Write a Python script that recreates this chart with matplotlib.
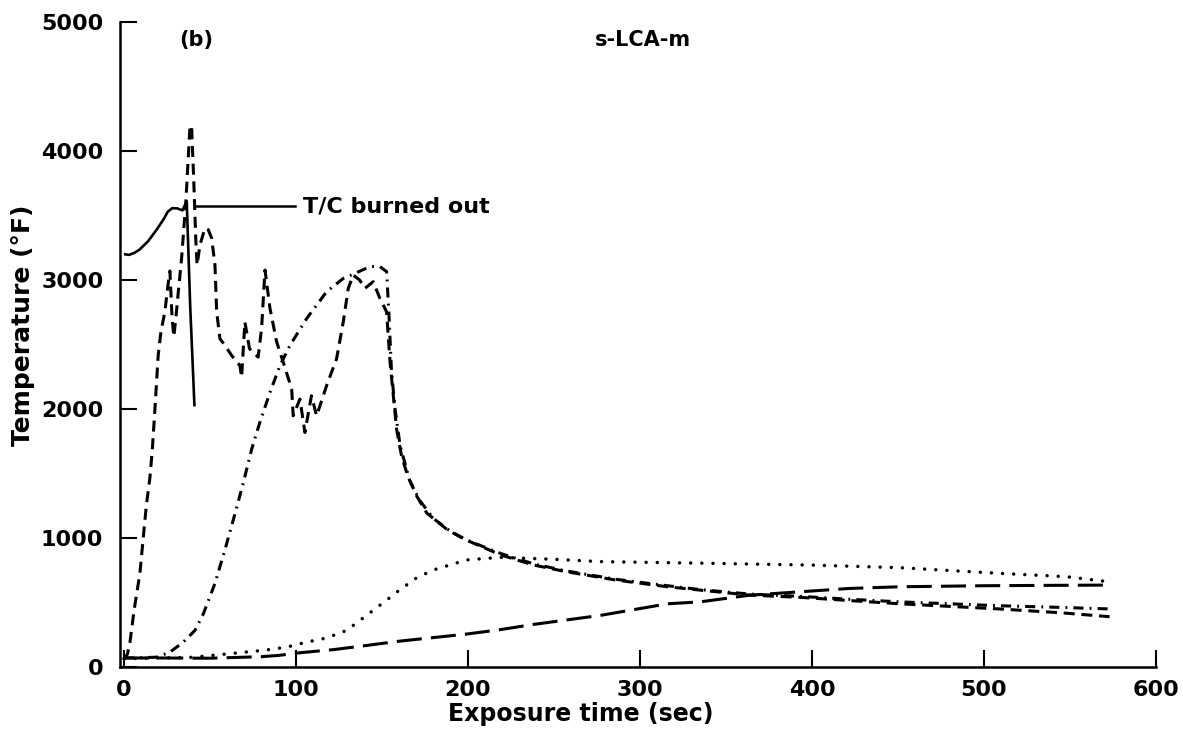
import matplotlib
matplotlib.use("Agg")
import matplotlib.pyplot as plt

# ---- data ----
tc_t = [0, 3, 6, 9, 14, 19, 23, 25.5, 27, 28, 31, 34, 36.5, 38.5, 41]
tc_T = [3200, 3195, 3210, 3235, 3300, 3390, 3470, 3530, 3545, 3557, 3555, 3540, 3610, 2800, 2020]

sd_t = [0, 2, 3.5, 6, 9.3, 11.2, 13, 15.1, 16.5, 18, 19.9, 21.5, 23.8, 25.5, 26.7, 28, 29,
        30.5, 31.6, 33.5, 36, 38.4, 39.3, 40.5, 41.8, 42.5, 44.2, 47.1, 49, 51, 52.9, 53.9,
        55.8, 58.7, 62.6, 67.4, 68.4, 70.3, 73, 78, 80, 82, 84.9, 88.8, 92.6, 97.5, 98.4,
        102.3, 105.2, 109, 112, 117.8, 123.6, 127.5, 130.4, 133.3, 137, 140.1, 144.9, 148.8,
        152.7, 154.7, 156.6, 158.5, 161.4, 165, 170, 176, 188, 198, 219, 238, 257, 286, 316,
        335, 364, 393, 422, 451, 509, 545, 573]
sd_T = [60, 100, 193, 450, 729, 1000, 1250, 1469, 1687, 2000, 2415, 2600, 2755, 2950, 3070,
        2700, 2560, 2750, 2909, 3168, 3613, 4195, 4195, 3800, 3300, 3116, 3272, 3402, 3390,
        3324, 3116, 2755, 2545, 2493, 2415, 2337, 2246, 2675, 2467, 2402, 2623, 3077, 2779,
        2519, 2363, 2155, 1947, 2077, 1818, 2103, 1947, 2181, 2389, 2675, 2935, 3038, 3000,
        2935, 2987, 2857, 2753, 2363, 2103, 1843, 1635, 1480, 1330, 1194, 1064, 990, 869,
        791, 739, 674, 622, 596, 557, 540, 515, 490, 450, 420, 390]

dd_t = [0, 10, 19, 26.7, 34.5, 38.4, 41.3, 46.1, 52.9, 58.7, 63.6, 69.4, 74.2, 79, 84.9,
        90.7, 96.5, 106.2, 117.8, 127.5, 134.3, 143, 148.8, 152.7, 154, 155.5, 157.6, 160.5,
        166, 172, 180, 190, 200, 219, 238, 257, 286, 316, 335, 364, 393, 422, 451, 509, 545, 573]
dd_T = [70, 72, 76, 115, 193, 245, 284, 410, 648, 908, 1142, 1428, 1687, 1896, 2129, 2337,
        2493, 2701, 2909, 3012, 3051, 3104, 3104, 3065, 2750, 2300, 2000, 1720, 1450, 1290,
        1150, 1050, 980, 880, 800, 745, 680, 630, 600, 565, 548, 525, 505, 475, 462, 450]

dt_t = [0, 40, 81, 94.6, 106.2, 117.8, 129.5, 141, 152.7, 160.5, 170, 179.8, 199.2, 218.6,
        250, 276.7, 335, 400, 451, 509, 548, 573]
dt_T = [65, 75, 129, 154, 193, 225, 284, 400, 518, 600, 690, 752, 830, 850, 835, 817, 805,
        790, 770, 726, 700, 660]

ld_t = [0, 20, 50, 80, 90, 102, 117, 122, 137, 160, 199, 219, 238, 277, 316, 335, 364, 393,
        422, 451, 500, 540, 573]
ld_T = [70, 70, 68, 80, 90, 110, 129, 135, 160, 200, 255, 290, 330, 400, 490, 505, 557, 583,
        609, 622, 630, 633, 635]

x_ticks = [0, 100, 200, 300, 400, 500, 600]
y_ticks = [0, 1000, 2000, 3000, 4000, 5000]

# ---- figure ----
plt.rcParams['font.family'] = ['DejaVu Sans']
plt.rcParams['font.weight'] = 'bold'

fig = plt.figure(figsize=(11.83, 7.35), dpi=100)
ax = fig.add_axes([120 / 1183, 68 / 735, 1036 / 1183, 645 / 735])

lw = 2.2
ax.plot(tc_t, tc_T, color='black', lw=1.9, solid_capstyle='butt')
ax.plot(sd_t, sd_T, color='black', lw=lw, linestyle=(0, (3.6, 2.2)))
ax.plot(dd_t, dd_T, color='black', lw=lw, linestyle=(0, (3.3, 2.0, 0.6, 2.0)))
ax.plot(dt_t, dt_T, color='black', lw=2.5, linestyle=(0, (0.01, 3.2)), dash_capstyle='round')
ax.plot(ld_t, ld_T, color='black', lw=lw, linestyle=(0, (8.2, 3.0)))

# annotation for the burned-out thermocouple
ax.plot([41.5, 99.5], [3573, 3573], color='black', lw=1.8)
ax.text(104, 3573, 'T/C burned out', fontsize=16, fontweight='bold', va='center', ha='left')

ax.text(42, 4860, '(b)', fontsize=15, fontweight='bold', ha='center', va='center')
ax.text(302, 4860, 's-LCA-m', fontsize=15, fontweight='bold', ha='center', va='center')

ax.set_xlim(-2.3, 600)
ax.set_ylim(0, 5000)
ax.set_xticks(x_ticks)
ax.set_yticks(y_ticks)
ax.tick_params(direction='in', length=12, width=1.5, labelsize=16)
ax.tick_params(axis='y', pad=12)
ax.tick_params(axis='x', pad=9)
for lab in ax.get_xticklabels() + ax.get_yticklabels():
    lab.set_fontweight('bold')

for s in ['top', 'right']:
    ax.spines[s].set_visible(False)
for s in ['left', 'bottom']:
    ax.spines[s].set_linewidth(1.8)

ax.set_xlabel('Exposure time (sec)', fontsize=17, fontweight='bold')
ax.set_ylabel('Temperature (°F)', fontsize=18, fontweight='bold')
ax.xaxis.set_label_coords(0.445, -0.055)
ax.yaxis.set_label_coords(-0.082, 0.53)

fig.savefig('out.png', dpi=100)
